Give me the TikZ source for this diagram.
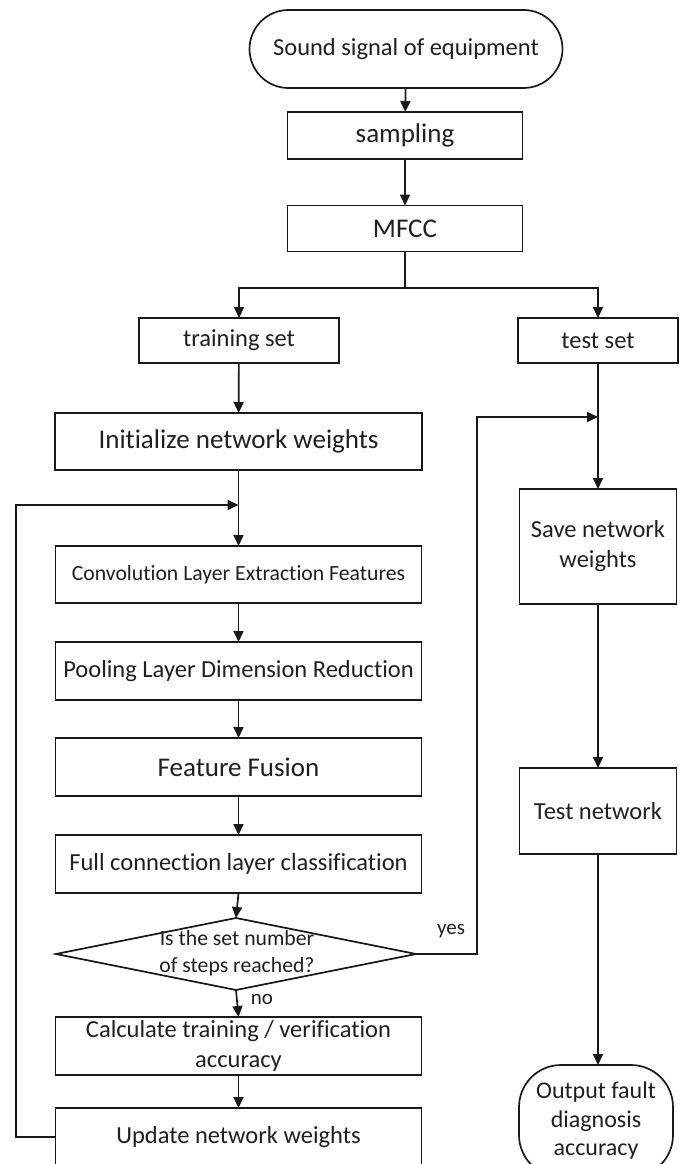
\documentclass[tikz,border=0pt]{standalone}
\usepackage{fontspec}
\setmainfont[Ligatures=NoCommon]{Carlito}
\usetikzlibrary{arrows.meta,positioning,shapes.geometric}
\begin{document}
\begin{tikzpicture}[x=1pt,y=-1pt,
  every node/.style={inner sep=0pt, outer sep=0pt, align=center, text=black!88},
  box/.style={draw=black!90, line width=1.7pt, rectangle},
  term/.style={draw=black!90, line width=1.7pt, rectangle},
  flow/.style={line width=1.7pt, draw=black!90, -{Triangle[length=11pt,width=10pt]}},
  link/.style={line width=1.7pt, draw=black!90},
  txt/.style={font=\fontsize{24.5}{30}\selectfont},
  bigtxt/.style={font=\fontsize{27}{33}\selectfont},
  smalltxt/.style={font=\fontsize{21.7}{26.7}\selectfont},
  lbl/.style={font=\fontsize{21}{25}\selectfont}
]
\useasboundingbox (0,0) rectangle (684,1164);

% top chain
\node[term, rounded corners=39pt, minimum width=313pt, minimum height=78pt, txt] (start) at (406,49) {Sound signal of equipment};
\node[box, minimum width=235pt, minimum height=47pt, bigtxt] (samp) at (405,135.5) {sampling};
\node[box, minimum width=235pt, minimum height=46pt, bigtxt] (mfcc) at (405,228.5) {MFCC};
\coordinate (split) at (405,288);

% left column
\node[box, minimum width=200pt, minimum height=45pt, txt] (train) at (239,340.5) {training set};
\node[box, minimum width=367pt, minimum height=57pt, bigtxt] (init) at (238.5,441.5) {Initialize network weights};
\coordinate (loopin) at (238.5,505);
\node[box, minimum width=366pt, minimum height=57pt, smalltxt] (conv) at (238.5,574.5) {Convolution Layer Extraction Features};
\node[box, minimum width=366pt, minimum height=58pt, txt] (pool) at (238.5,671) {Pooling Layer Dimension Reduction};
\node[box, minimum width=366pt, minimum height=58pt, bigtxt] (fuse) at (238.5,767) {Feature Fusion};
\node[box, minimum width=366pt, minimum height=58pt, txt] (full) at (238.5,864) {Full connection layer classification};
\node[draw=black!90, line width=1.7pt, diamond, minimum width=360pt, minimum height=72pt] (dec) at (236,954) {};
\node[smalltxt] (dectext) at (237,953) {Is the set number\\of steps reached?};
\node[box, minimum width=366pt, minimum height=58pt, txt] (calc) at (238.5,1046) {Calculate training / verification\\accuracy};
\node[box, minimum width=366pt, minimum height=58pt, txt] (upd) at (238.5,1137) {Update network weights};
\coordinate (loopcorner) at (16,1137);

% right column
\node[box, minimum width=160pt, minimum height=45pt, txt] (test) at (598,340.5) {test set};
\coordinate (yesin) at (598,417);
\coordinate (yescorner) at (477,954);
\node[box, minimum width=157pt, minimum height=115pt, txt] (save) at (598,546.5) {Save network\\weights};
\node[box, minimum width=157pt, minimum height=86pt, txt] (tnet) at (598,811) {Test network};
\node[term, rounded corners=42pt, minimum width=154pt, minimum height=112pt, font=\fontsize{24}{28.5}\selectfont] (out) at (596,1121) {Output fault\\diagnosis\\accuracy};

% labels
\node[lbl] (yes) at (451,931) {yes};
\node[lbl] (no) at (262,999) {no};

% connectors
\draw[flow] (start) -- (samp);
\draw[flow] (samp) -- (mfcc);
\draw[link] (mfcc) -- (split);
\draw[flow] (split) -| (train.north);
\draw[flow] (split) -| (test.north);
\draw[flow] (train) -- (init);
\draw[flow] (init) -- (conv);
\draw[flow] (conv) -- (pool);
\draw[flow] (pool) -- (fuse);
\draw[flow] (fuse) -- (full);
\draw[flow] (full.south) -- (dec.north);
\draw[flow] (dec.south) -- (calc.north);
\draw[flow] (calc) -- (upd);
\draw[flow] (upd.west) -- (loopcorner) |- (loopin);
\draw[flow] (dec.east) -- (yescorner) |- (yesin);
\draw[flow] (test) -- (save);
\draw[flow] (save) -- (tnet);
\draw[flow] (tnet.south) -- (out.north -| tnet.south);
\end{tikzpicture}
\end{document}
